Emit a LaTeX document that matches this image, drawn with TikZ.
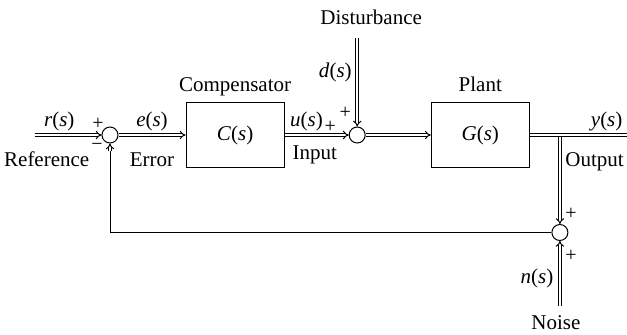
\documentclass[tikz,border=0pt]{standalone}
\usepackage{fontspec}
\setmainfont{Liberation Serif}
\usetikzlibrary{arrows.meta,positioning}
\newcommand{\sig}[1]{\textit{#1}(\textit{s})}

\begin{document}
\begin{tikzpicture}[
  font=\fontsize{10.5}{12}\selectfont,
  block/.style   = {draw, line width=0.6pt, minimum width=49pt,
                    minimum height=32.5pt, inner sep=0pt},
  sumnode/.style = {draw, circle, line width=0.5pt,
                    minimum size=8pt, inner sep=0pt},
  sigline/.style = {line width=0.5pt, double, double distance=0.9pt},
  sigarr/.style  = {sigline, -{Implies}},
  fbline/.style  = {line width=0.5pt},
  lblup/.style   = {anchor=base, yshift=4.5pt, inner sep=0pt},
  lbldown/.style = {anchor=base, yshift=-15.5pt, inner sep=0pt},
  sgn/.style     = {font=\fontsize{10}{11}\selectfont, inner sep=0pt},
]
\useasboundingbox (-55pt,-99.5pt) rectangle (258.5pt,67.5pt);

% main row
\node[sumnode] (sum1) at (0,0) {};
\coordinate[left=33pt of sum1] (rin);
\node[block, right=33.5pt of sum1] (ctrl) {\sig{C}};
\node[sumnode, right=32pt of ctrl] (sum2) {};
\node[block, right=32.5pt of sum2] (plant) {\sig{G}};
\coordinate[right=15pt of plant] (br);
\coordinate[right=35.5pt of br] (yend);
\node[sumnode, below=44.5pt of br] (sum3) {};
\coordinate[above=44.5pt of sum2] (dtop);
\coordinate[below=32.5pt of sum3] (nbot);
\coordinate[below=3.5pt of sum1] (fbk);

% block titles
\node[above=5pt of ctrl, anchor=base] (ctrltitle) {Compensator};
\node[above=5pt of plant, anchor=base] (planttitle) {Plant};
\node[above=6.5pt of dtop, anchor=base, xshift=7pt] (dlbl) {Disturbance};
\node[below=11.5pt of nbot, anchor=base, xshift=-2pt] (nlbl) {Noise};

% signals
\draw[sigarr] (rin) -- node[lblup, pos=0.36] {\sig{r}}
  node[lbldown, pos=0.17] {Reference} (sum1);
\draw[sigarr] (sum1) -- node[lblup] {\sig{e}}
  node[lbldown] {Error} (ctrl);
\draw[sigarr] (ctrl) -- node[lblup, pos=0.34] {\sig{u}}
  node[lbldown, pos=0.47, yshift=3.5pt] {Input} (sum2);
\draw[sigarr] (sum2) -- (plant);
\draw[sigarr] (dtop) -- node[pos=0.45, anchor=base east, xshift=-2.5pt, inner sep=0pt] {\sig{d}} (sum2);
\draw[sigarr] (br) -- (sum3);
\draw[sigline] (plant) -- node[lblup, pos=0.76] {\sig{y}}
  node[lbldown, pos=0.64] {Output} (yend);
\draw[sigarr] (nbot) -- node[pos=0.35, anchor=base east, xshift=-3pt, inner sep=0pt] {\sig{n}} (sum3);

% feedback
\draw[fbline] (sum3) -| (fbk);
\draw[sigarr] (fbk) -- (sum1);

% signs
\node[sgn] at ([shift={(-6pt,5.5pt)}]sum1.center) {+};
\node[sgn] at ([shift={(-6.5pt,-6pt)}]sum1.center) {−};
\node[sgn] at ([shift={(-13.5pt,4pt)}]sum2.center) {+};
\node[sgn] at ([shift={(-6pt,11pt)}]sum2.center) {+};
\node[sgn] at ([shift={(5.5pt,9.5pt)}]sum3.center) {+};
\node[sgn] at ([shift={(5.5pt,-11.5pt)}]sum3.center) {+};
\end{tikzpicture}
\end{document}
